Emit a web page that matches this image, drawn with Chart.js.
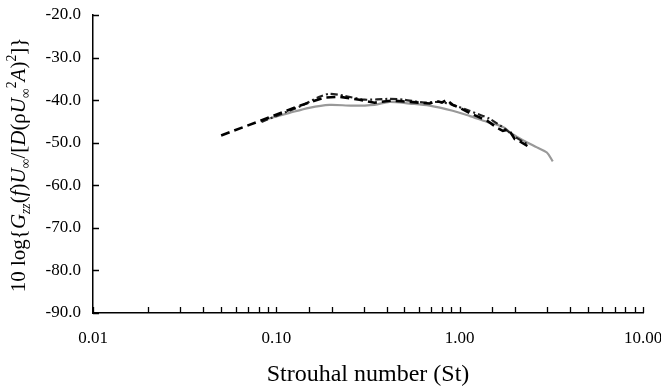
<!DOCTYPE html>
<html>
<head>
<meta charset="utf-8">
<script src="https://cdn.jsdelivr.net/npm/chart.js@4"></script>
<style>
  html, body { margin: 0; padding: 0; background: #fff; }
  #wrap { width: 661px; height: 389px; position: relative; }
</style>
</head>
<body>
<div id="wrap"><canvas id="chart"></canvas></div>
<script>
// values (Strouhal number vs level in dB)
const stDashed = [0.050, 0.081, 0.134, 0.183, 0.221, 0.284, 0.343, 0.425, 0.533, 0.686, 0.75, 0.80, 0.849, 0.916, 1.00, 1.13, 1.41, 1.60, 1.72, 1.85, 2.00, 2.13, 2.41];
const dbDashed = [-48.3, -44.9, -41.3, -39.4, -39.2, -39.9, -40.6, -40.1, -40.4, -40.8, -40.2, -40.6, -39.9, -41.1, -41.8, -43.0, -44.8, -46.5, -47.2, -46.9, -49.2, -49.7, -51.1];

const stDashDot = [0.083, 0.134, 0.172, 0.195, 0.236, 0.303, 0.414, 0.50, 0.64, 0.778, 0.916, 1.13, 1.46, 1.76, 2.00, 2.35];
const dbDashDot = [-45.1, -41.5, -39.2, -38.5, -39.0, -39.9, -39.7, -39.9, -40.6, -40.4, -41.1, -42.5, -44.4, -46.7, -48.6, -50.4];

const stGray = [0.083, 0.118, 0.151, 0.195, 0.260, 0.343, 0.414, 0.533, 0.686, 0.916, 1.13, 1.41, 1.61, 1.76, 1.88, 2.13, 2.64, 2.99, 3.22];
const dbGray = [-44.8, -43.0, -41.8, -41.1, -41.3, -41.1, -40.4, -40.8, -41.3, -42.5, -43.7, -45.1, -45.8, -46.5, -47.6, -49.0, -51.1, -52.3, -54.4];

const xMin = 0.01, xMax = 10;
const yMin = -90, yMax = -20, yStep = 10;
const xTitle = "Strouhal number (St)";

const serif = "'Liberation Serif', 'Times New Roman', serif";

function pts(xs, ys) {
	return xs.map((x, i) => ({ x: x, y: ys[i] }));
}

// y-axis title has italics, subscripts and superscripts, so it is drawn by hand
const yTitleParts = [
	{ t: "10 log{" }, { t: "G", it: true }, { t: "zz", it: true, s: "sub" },
	{ t: "(" }, { t: "f", it: true }, { t: ")" }, { t: "U", it: true }, { t: "∞", s: "sub" },
	{ t: "/[" }, { t: "D", it: true }, { t: "(ρ" }, { t: "U", it: true }, { t: "∞", s: "sub" },
	{ t: "2", s: "sup" }, { t: "A", it: true }, { t: ")" }, { t: "2", s: "sup" }, { t: "]}" }
];

const yTitlePlugin = {
	id: "yTitle",
	afterDraw(chart) {
		const ctx = chart.ctx;
		const size = 21;
		const fontOf = (p) => {
			const sz = p.s ? size * 0.65 : size;
			return (p.it ? "italic " : "") + sz + "px " + serif;
		};
		let total = 0;
		yTitleParts.forEach(p => { ctx.font = fontOf(p); total += ctx.measureText(p.t).width; });
		ctx.save();
		ctx.translate(25, 165);
		ctx.rotate(-Math.PI / 2);
		ctx.fillStyle = "#000";
		ctx.textBaseline = "alphabetic";
		let x = -total / 2;
		yTitleParts.forEach(p => {
			ctx.font = fontOf(p);
			let dy = 0;
			if (p.s === "sub") dy = size * 0.25;
			if (p.s === "sup") dy = -size * 0.45;
			ctx.fillText(p.t, x, dy);
			x += ctx.measureText(p.t).width;
		});
		ctx.restore();
	}
};

// tick marks pointing into the plot
const innerTicks = {
	id: "innerTicks",
	afterDraw(chart) {
		const ctx = chart.ctx;
		const xs = chart.scales.x, ys = chart.scales.y;
		const a = chart.chartArea;
		ctx.save();
		ctx.strokeStyle = "#000";
		ctx.lineWidth = 1.3;
		ctx.beginPath();
		xs.ticks.forEach(t => {
			const px = Math.round(xs.getPixelForValue(t.value)) + 0.5;
			ctx.moveTo(px, a.bottom);
			ctx.lineTo(px, a.bottom - 6);
		});
		ys.ticks.forEach(t => {
			const py = Math.round(ys.getPixelForValue(t.value)) + 0.5;
			ctx.moveTo(a.left, py);
			ctx.lineTo(a.left + 6, py);
		});
		ctx.stroke();
		ctx.restore();
	}
};

const context = document.getElementById("chart").getContext("2d");

const chart = new Chart(context, {
	type: "line",
	data: {
		datasets: [
			{
				data: pts(stDashed, dbDashed),
				borderColor: "#000",
				borderWidth: 2.6,
				borderDash: [9, 5],
				tension: 0
			},
			{
				data: pts(stDashDot, dbDashDot),
				borderColor: "#222",
				borderWidth: 2.2,
				borderDash: [7, 3, 2, 3],
				tension: 0.2
			},
			{
				data: pts(stGray, dbGray),
				borderColor: "#999",
				borderWidth: 2.2,
				tension: 0.3
			}
		]
	},
	options: {
		responsive: true,
		maintainAspectRatio: false,
		animation: false,
		elements: { point: { radius: 0 } },
		layout: { padding: { top: 15, right: 18, left: 0, bottom: 0 } },
		plugins: {
			legend: { display: false },
			tooltip: { enabled: false }
		},
		scales: {
			x: {
				type: "logarithmic",
				min: xMin,
				max: xMax,
				grid: { display: false, drawTicks: false },
				border: { color: "#000", width: 1.5 },
				ticks: {
					autoSkip: false,
					maxRotation: 0,
					padding: 15,
					color: "#000",
					font: { family: serif, size: 17 },
					callback: (v) => {
						const l = Math.log10(v);
						return Math.abs(l - Math.round(l)) < 1e-6 ? Number(v).toFixed(2) : "";
					}
				},
				title: {
					display: true,
					text: xTitle,
					color: "#000",
					font: { family: serif, size: 24 },
					padding: { top: 0, bottom: 0 }
				},
				afterFit: (s) => { s.height = 76; s.paddingLeft = 0; s.paddingRight = 0; }
			},
			y: {
				min: yMin,
				max: yMax,
				grid: { display: false, drawTicks: false },
				border: { color: "#000", width: 1.5 },
				ticks: {
					stepSize: yStep,
					padding: 12,
					color: "#000",
					font: { family: serif, size: 17 },
					callback: (v) => Number(v).toFixed(1)
				},
				afterFit: (s) => { s.width = 93; s.paddingTop = 0; s.paddingBottom = 0; }
			}
		}
	},
	plugins: [yTitlePlugin, innerTicks]
});
</script>
</body>
</html>
